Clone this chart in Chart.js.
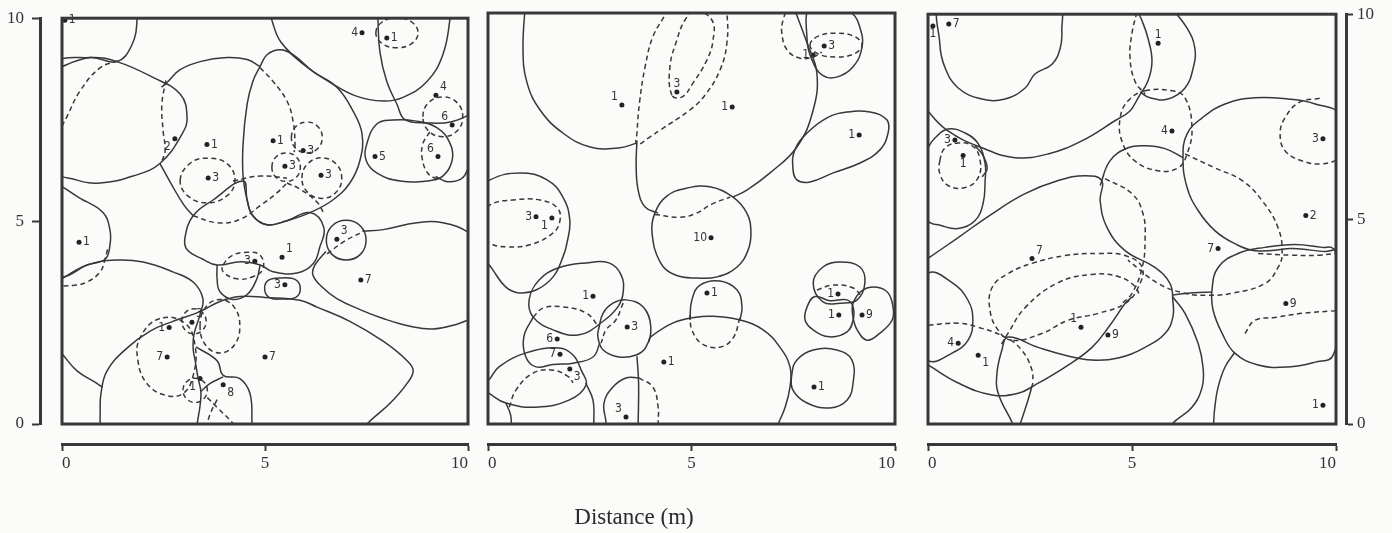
<!DOCTYPE html>
<html>
<head>
<meta charset="utf-8">
<script src="https://cdn.jsdelivr.net/npm/chart.js@4.4.1/dist/chart.umd.min.js"></script>
<style>
  html, body { margin: 0; padding: 0; background: #fbfbfa; }
  body { width: 1392px; height: 533px; position: relative; overflow: hidden; }
  .panel { position: absolute; top: 0; height: 533px; }
  #p1 { left: 0; width: 475px; }
  #p2 { left: 481px; width: 420px; }
  #p3 { left: 921px; width: 471px; }
  #xtitle {
    position: absolute; left: 534px; width: 200px; top: 504px;
    text-align: center; line-height: 28px;
    font: 23px "Liberation Serif", "DejaVu Serif", serif; color: #2a2a2a;
  }
</style>
</head>
<body>
<div class="panel" id="p1"><canvas id="c1"></canvas></div>
<div class="panel" id="p2"><canvas id="c2"></canvas></div>
<div class="panel" id="p3"><canvas id="c3"></canvas></div>
<div id="xtitle">Distance (m)</div>
<script>
/* Territory maps — three 10 m x 10 m plots, solid and dashed boundaries */

const INK = '#383838';
const SERIF = '"Liberation Serif", "DejaVu Serif", serif';
const NUM_FONT = '"Liberation Sans Narrow", "DejaVu Sans Condensed", "DejaVu Sans", sans-serif';

// ---- Panel 1 (left plot) ----
const p1BirdXY = [
  [0.07, 9.95], [2.78, 7.03], [3.57, 6.89], [3.60, 6.06], [0.42, 4.48], [4.75, 4.01],
  [3.20, 2.51], [2.64, 2.38], [2.59, 1.65], [3.40, 1.12], [3.97, 0.97], [5.00, 1.65],
  [7.39, 9.64], [8.00, 9.51], [9.21, 8.10], [9.61, 7.37], [9.26, 6.59], [7.71, 6.59],
  [5.20, 6.98], [5.94, 6.74], [5.49, 6.35], [6.38, 6.13], [6.77, 4.55], [5.42, 4.11],
  [5.49, 3.43], [7.36, 3.55]
];
const p1Counts = ['1','2','1','3','1','3','3','1','7','1','8','7','4','1','4','6','6','5','1','3','3','3','3','1','3','7'];
const p1Side = ['r','bl','r','r','r','l','ar','l','l','bl','br','r','l','r','ar','al','al','r','r','r','r','r','ar','ar','l','r'];

const p1SolidLoops = [
  [[-0.5,8.8],[0.7,9.03],[1.35,8.93],[1.72,9.34],[1.85,10],[1.8,10.6],[-0.5,10.6]],
  [[-0.4,7.5],[-0.2,8.85],[0.69,9.03],[1.35,8.93],[2.24,8.54],[2.91,8.13],[3.08,7.57],[2.96,7.15],[2.41,6.42],[1.75,6.11],[0.94,5.94],[0.37,6.01],[-0.3,6.3]],
  [[4.88,8.81],[5.05,9.1],[5.37,9.22],[5.69,9.1],[6.18,8.69],[6.77,8.3],[7.17,7.71],[7.39,7.15],[7.34,6.5],[7.09,5.94],[6.67,5.52],[6.11,5.21],[5.54,5.01],[5.05,4.91],[4.7,5.13],[4.56,5.52],[4.46,6.11],[4.46,6.91],[4.56,7.88],[4.7,8.44]],
  [[3.03,4.6],[3.23,5.13],[3.72,5.52],[4.46,5.99],[4.56,5.52],[4.7,5.13],[5.05,4.91],[5.54,5.01],[6.11,5.21],[6.45,4.84],[6.35,4.36],[6.18,3.94],[5.79,3.72],[5.2,3.75],[4.88,3.92],[4.4,4.0],[3.82,3.92],[3.47,4.06],[3.08,4.3]],
  [[-0.3,5.86],[0.52,5.52],[1.01,5.21],[1.18,4.79],[1.18,4.4],[1.06,4.06],[0.62,3.92],[0,3.62],[-0.5,3.8]],
  [[7.51,6.91],[7.76,7.4],[8.15,7.49],[8.69,7.47],[9.24,7.3],[9.56,6.91],[9.61,6.5],[9.38,6.11],[8.99,5.99],[8.33,5.99],[7.76,6.18],[7.49,6.5]],
  [[6.51,4.53],[6.65,4.88],[7.0,5.02],[7.35,4.88],[7.49,4.53],[7.35,4.18],[7.0,4.04],[6.65,4.18]],
  [[4.99,3.35],[5.1,3.55],[5.42,3.6],[5.76,3.55],[5.87,3.33],[5.76,3.12],[5.42,3.08],[5.1,3.12]]
];
const p1SolidPaths = [
  [[2.45,8.3],[2.61,8.44],[2.91,8.73],[3.4,8.93],[4.06,9.03],[4.56,8.98],[4.88,8.81]],
  [[2.41,6.42],[2.7,5.9],[3.0,5.4],[3.23,5.13]],
  [[-0.2,3.45],[0,3.58],[0.62,3.92],[1.35,4.04],[2.0,3.99],[2.73,3.75],[3.23,3.5],[3.47,3.09],[3.4,2.7],[3.25,2.2],[3.23,1.87],[3.28,1.56],[3.35,1.14],[3.42,0.8],[3.4,0.45],[3.33,0],[3.32,-0.2]],
  [[-0.2,1.95],[0,1.73],[0.37,1.31],[0.86,1.0],[1.0,0.9]],
  [[0.94,-0.3],[0.94,0.3],[0.96,0.75],[1.11,1.31],[1.6,1.87],[2.17,2.29],[2.73,2.53],[3.4,2.77],[3.89,3.02],[4.38,3.14],[5.0,3.12],[5.86,3.05],[6.28,2.88],[7.09,2.53],[7.91,2.04],[8.5,1.56],[8.65,1.31],[8.5,1.0],[8.08,0.51],[7.51,0],[7.3,-0.3]],
  [[3.3,1.9],[3.82,1.56],[3.97,1.2],[4.38,1.12],[4.63,0.75],[4.68,0],[4.68,-0.2]],
  [[3.42,0.8],[3.65,1.0],[3.97,1.16]],
  [[3.82,3.92],[3.82,3.58],[3.89,3.26],[4.21,3.07],[4.56,3.19],[4.8,3.58],[4.88,3.92]],
  [[5.1,10.3],[5.2,9.85],[5.4,9.4],[5.95,8.86],[6.6,8.42],[7.25,8.08],[7.91,7.96],[8.4,8.05],[8.99,8.44],[9.38,9.1],[9.56,10],[9.57,10.3]],
  [[7.77,10.3],[7.78,10],[7.83,9.17],[8.0,8.44],[8.25,7.88],[8.45,7.5],[9.0,7.42],[9.6,7.45],[10.2,7.7]],
  [[9.2,6.1],[9.5,5.97],[9.85,6.05],[10,6.3],[10.1,6.6]],
  [[7.4,4.75],[7.91,4.79],[8.74,4.96],[9.38,4.96],[10.05,4.7],[10.3,4.4]],
  [[6.5,4.25],[6.23,3.92],[6.18,3.67],[6.4,3.38],[6.77,3.09],[7.34,2.82],[7.91,2.6],[8.57,2.41],[9.14,2.34],[9.73,2.46],[10.05,2.58],[10.3,2.65]]
];
const p1DashedLoops = [
  [[2.91,6.01],[3.15,6.42],[3.57,6.55],[4.06,6.42],[4.26,6.01],[4.06,5.62],[3.57,5.45],[3.1,5.62]],
  [[5.65,7.06],[5.76,7.33],[6.03,7.44],[6.3,7.33],[6.41,7.06],[6.3,6.79],[6.03,6.68],[5.76,6.79]],
  [[5.17,6.33],[5.27,6.58],[5.52,6.68],[5.77,6.58],[5.87,6.33],[5.77,6.08],[5.52,5.98],[5.27,6.08]],
  [[5.91,6.06],[6.05,6.41],[6.4,6.56],[6.75,6.41],[6.89,6.06],[6.75,5.71],[6.4,5.56],[6.05,5.71]],
  [[8.89,7.57],[9.03,7.92],[9.38,8.06],[9.73,7.92],[9.87,7.57],[9.73,7.22],[9.38,7.08],[9.03,7.22]],
  [[7.73,9.64],[7.88,9.9],[8.25,10.01],[8.62,9.9],[8.77,9.64],[8.62,9.38],[8.25,9.27],[7.88,9.38]],
  [[2.41,2.6],[1.92,2.12],[1.87,1.56],[2.09,1.0],[2.54,0.71],[2.98,0.75],[3.23,1.19],[3.28,1.92],[3.03,2.48]],
  [[2.95,2.53],[3.04,2.75],[3.25,2.84],[3.46,2.75],[3.55,2.53],[3.46,2.31],[3.25,2.22],[3.04,2.31]],
  [[3.4,2.41],[3.54,2.88],[3.89,3.07],[4.24,2.88],[4.38,2.41],[4.24,1.94],[3.89,1.75],[3.54,1.94]],
  [[2.98,0.83],[3.07,1.04],[3.28,1.13],[3.49,1.04],[3.58,0.83],[3.49,0.62],[3.28,0.53],[3.07,0.62]],
  [[3.97,3.92],[4.21,4.16],[4.56,4.23],[4.88,4.16],[4.95,3.82],[4.7,3.63],[4.31,3.58],[3.97,3.75]]
];
const p1DashedPaths = [
  [[1.38,8.95],[0.94,8.78],[0.44,8.2],[0.12,7.57],[-0.1,7.15]],
  [[2.56,8.47],[2.46,7.88],[2.49,7.23],[2.54,6.74],[2.46,6.47]],
  [[4.88,8.78],[5.2,8.44],[5.54,7.96],[5.69,7.47],[5.74,6.91],[5.72,6.7]],
  [[3.23,5.13],[3.82,4.96],[4.38,5.04],[4.88,5.38],[5.3,5.7],[5.54,5.94]],
  [[4.21,5.99],[4.88,6.11],[5.54,6.06]],
  [[5.54,5.94],[5.86,5.79],[6.28,5.47],[6.43,5.23]],
  [[9.06,7.2],[8.89,6.91],[8.87,6.55],[9.01,6.18],[9.23,6.03]],
  [[3.58,0.65],[3.82,0.41],[4.21,0.02],[4.3,-0.1]],
  [[3.82,0.6],[3.65,0.25],[3.55,-0.1]],
  [[1.12,4.3],[1.06,4.06],[0.94,3.75],[0.62,3.5],[0.3,3.42],[-0.2,3.4]],
  [[6.53,4.19],[6.95,4.5],[7.42,4.74]]
];

// ---- Panel 2 (middle plot) ----
const p2BirdXY = [
  [3.29, 7.76], [4.64, 8.08], [1.18, 5.04], [1.57, 5.01], [2.58, 3.11], [3.42, 2.36],
  [1.70, 2.07], [1.77, 1.70], [2.01, 1.34], [4.32, 1.51], [3.39, 0.17], [6.00, 7.71],
  [7.99, 8.98], [8.26, 9.20], [9.12, 7.03], [5.48, 4.53], [5.38, 3.19], [8.60, 3.16],
  [8.62, 2.65], [9.19, 2.65], [8.01, 0.90]
];
const p2Counts = ['1','3','3','1','1','3','6','7','3','1','3','1','1','3','1','10','1','1','1','9','1'];
const p2Side = ['al','a','l','bl','l','r','l','l','br','r','al','l','l','r','l','l','r','l','l','r','r'];

const p2SolidLoops = [
  [[4.03,4.65],[4.1,5.13],[4.4,5.55],[4.89,5.74],[5.45,5.77],[6.02,5.52],[6.36,5.13],[6.46,4.67],[6.39,4.23],[6.12,3.82],[5.63,3.58],[5.14,3.55],[4.59,3.63],[4.23,3.94]],
  [[7.59,1.56],[7.99,1.8],[8.57,1.8],[8.94,1.56],[8.97,1.0],[8.82,0.58],[8.4,0.39],[7.84,0.51],[7.49,0.83],[7.47,1.24]],
  [[7.99,3.43],[8.23,3.82],[8.65,3.94],[9.14,3.82],[9.26,3.43],[9.07,3.02],[8.65,2.94],[8.23,2.97]],
  [[8.03,3.1],[7.84,2.85],[7.79,2.53],[7.99,2.29],[8.4,2.12],[8.82,2.24],[8.97,2.53],[8.97,2.85],[8.82,3.02],[8.4,3.0]],
  [[8.97,2.94],[9.21,3.26],[9.56,3.33],[9.83,3.19],[9.95,2.85],[9.93,2.53],[9.63,2.21],[9.31,2.04],[9.07,2.29],[8.97,2.6]],
  [[7.84,9.34],[7.96,8.86],[8.21,8.49],[8.57,8.44],[8.97,8.69],[9.19,9.17],[9.14,9.64],[8.94,10],[8.4,10.3],[7.91,10.2]],
  [[7.49,6.25],[7.54,6.67],[7.84,7.08],[8.33,7.45],[8.82,7.59],[9.39,7.59],[9.8,7.4],[9.83,7.08],[9.63,6.67],[9.14,6.35],[8.48,6.11],[7.91,5.89],[7.59,5.94]],
  [[-0.3,5.6],[0.05,5.94],[0.79,6.11],[1.45,5.94],[1.84,5.52],[2.01,4.96],[1.94,4.4],[1.84,4.06],[1.6,3.58],[1.18,3.26],[0.76,3.19],[0.44,3.33],[0.12,3.75],[-0.3,4.4]],
  [[1.25,3.5],[1.74,3.8],[2.41,3.92],[2.97,3.92],[3.27,3.63],[3.32,3.19],[3.19,2.85],[2.83,2.5],[2.24,2.17],[1.6,2.29],[1.11,2.6],[1.01,3.02]],
  [[2.73,2.36],[2.83,2.7],[3.07,2.94],[3.39,3.02],[3.81,2.85],[4.0,2.36],[3.88,1.87],[3.64,1.68],[3.22,1.63],[2.83,1.8],[2.7,2.12]],
  [[-0.2,0.9],[0.02,1.07],[0.27,1.39],[0.93,1.73],[1.74,1.85],[2.09,1.68],[2.29,1.31],[2.41,0.95],[1.99,0.58],[1.18,0.41],[0.44,0.51],[0.02,0.75]]
];
const p2SolidPaths = [
  [[0.93,10.4],[0.86,9.1],[0.96,8.3],[1.28,7.64],[1.84,7.08],[2.51,6.74],[3.24,6.72],[3.66,6.84]],
  [[3.66,6.9],[3.64,6.3],[3.69,5.69],[3.86,5.28],[4.18,5.13]],
  [[7.49,10.2],[7.84,9.27],[8.08,8.54],[7.99,7.64],[7.59,6.74],[6.93,6.11],[6.36,5.69],[6.02,5.52]],
  [[4.96,2.53],[5.01,3.02],[5.21,3.38],[5.7,3.48],[6.12,3.26],[6.24,2.85],[6.19,2.53]],
  [[3.66,1.65],[3.7,1.0],[3.69,0],[3.69,-0.2]],
  [[3.95,2.0],[4.0,2.12],[4.55,2.46],[5.11,2.6],[5.53,2.62],[6.19,2.53],[6.76,2.29],[7.17,1.87],[7.42,1.39],[7.42,0.9],[7.3,0.41],[7.13,0],[7.05,-0.2]],
  [[1.11,2.6],[0.88,2.12],[0.93,1.63],[1.18,1.39],[1.6,1.45],[2.09,1.48],[2.58,1.63],[2.75,1.97]],
  [[2.4,1.0],[2.58,0.58],[2.6,0],[2.6,-0.2]],
  [[0.44,0.51],[0.56,0.2],[0.57,-0.2]],
  [[2.87,-0.2],[2.9,0.02],[2.85,0.51],[3.07,0.9],[3.39,1.12],[3.71,1.12]]
];
const p2DashedLoops = [
  [[7.91,9.22],[8.1,9.43],[8.55,9.51],[9.0,9.43],[9.19,9.22],[9.0,9.01],[8.55,8.93],[8.1,9.01]],
  [[-0.44,4.84],[0.05,5.33],[0.61,5.45],[1.28,5.45],[1.7,5.26],[1.77,4.96],[1.6,4.65],[1.03,4.36],[0.47,4.31],[0.05,4.4]],
  [[4.52,8.0],[4.47,8.69],[4.64,9.34],[4.84,9.83],[5.09,10.05],[5.5,9.83],[5.53,9.34],[5.38,8.86],[5.04,8.3],[4.77,7.96]]
];
const p2DashedPaths = [
  [[7.4,10.2],[7.25,9.83],[7.22,9.51],[7.35,9.1],[7.67,8.9],[7.99,8.93],[8.2,9.05]],
  [[4.4,10.3],[4.4,10.07],[4.05,9.42],[3.86,8.69],[3.73,7.88],[3.66,7.08],[3.66,6.8],[4.0,7.0],[4.23,7.15],[4.96,7.64],[5.33,8.0],[5.7,8.61],[5.87,9.27],[5.87,10],[5.8,10.3]],
  [[4.1,5.1],[4.7,5.03],[5.1,5.12],[5.5,5.35],[5.95,5.52]],
  [[6.19,2.58],[6.02,2.09],[5.7,1.87],[5.26,1.95],[5.01,2.29],[4.96,2.65]],
  [[8.08,3.26],[8.48,3.38],[8.97,3.31],[9.19,3.09]],
  [[1.11,2.6],[1.35,2.82],[1.84,2.85],[2.41,2.7],[2.73,2.36]],
  [[3.32,2.94],[3.14,2.53],[2.9,2.29],[2.78,1.97]],
  [[0.52,0.41],[0.69,0.83],[1.11,1.24],[1.6,1.31],[1.99,1.14],[2.09,1.0]],
  [[3.71,1.12],[4.05,0.9],[4.18,0.41],[4.18,0.02],[4.18,-0.2]]
];

// ---- Panel 3 (right plot) ----
const p3BirdXY = [
  [0.12, 9.71], [0.51, 9.76], [0.66, 6.93], [0.86, 6.55], [2.55, 4.04], [0.74, 1.97],
  [1.23, 1.68], [3.75, 2.36], [4.41, 2.17], [5.64, 9.29], [5.98, 7.15], [9.68, 6.96],
  [9.26, 5.09], [7.11, 4.28], [8.77, 2.94], [9.68, 0.46]
];
const p3Counts = ['1','7','3','1','7','4','1','1','9','1','4','3','2','7','9','1'];
const p3Side = ['b','r','l','b','ar','l','br','al','r','a','l','l','r','l','r','l'];

const p3SolidLoops = [
  [[0.34,10.3],[0.29,9.27],[0.42,8.69],[0.74,8.2],[1.32,7.93],[1.89,7.93],[2.38,8.2],[2.62,8.54],[3.04,8.78],[3.24,9.17],[3.28,9.59],[3.19,10.2],[1.8,10.6]],
  [[6.35,7.08],[6.72,7.47],[7.28,7.81],[8.01,7.96],[8.82,7.93],[9.49,7.81],[10.1,7.52],[10.34,5.94],[10.1,4.36],[8.87,4.28],[8.01,4.23],[7.52,4.4],[7.03,4.72],[6.62,5.21],[6.35,5.77],[6.25,6.5]],
  [[6.96,3.26],[7.11,3.82],[7.6,4.16],[8.26,4.31],[8.99,4.38],[9.66,4.31],[9.93,4.28],[10.3,3.5],[9.93,1.68],[9.49,1.51],[8.82,1.39],[8.09,1.44],[7.52,1.73],[7.21,2.21],[6.99,2.77]],
  [[-0.4,6.0],[0,6.74],[0.17,6.98],[0.49,7.2],[0.91,7.1],[1.23,6.84],[1.4,6.35],[1.4,5.94],[1.35,5.38],[1.15,4.96],[0.74,4.77],[0.3,4.85],[0,4.96]],
  [[0,3.67],[0.59,3.45],[0.98,3.02],[1.1,2.53],[0.98,2.04],[0.59,1.73],[0,1.56],[-0.45,2.6]]
];
const p3SolidPaths = [
  [[-0.2,8.0],[0,7.64],[0.49,7.15],[1.32,6.74],[2.13,6.5],[2.94,6.59],[3.77,6.91],[4.58,7.4],[4.95,7.64],[5.15,7.96],[5.39,8.37],[5.49,8.86],[5.39,9.42],[5.25,9.83],[5.12,10.1]],
  [[5.93,10.2],[6.35,9.66],[6.54,9.17],[6.5,8.69],[6.3,8.2],[5.88,7.93],[5.44,7.96],[5.2,8.1]],
  [[-0.2,3.9],[0,4.04],[0.74,4.55],[1.57,5.13],[2.38,5.62],[3.19,5.94],[3.85,6.06],[4.26,5.94],[4.22,5.45],[4.39,4.79],[4.83,4.23],[5.56,3.82],[5.93,3.43],[6.0,3.02],[6.0,2.6],[5.81,2.21],[5.32,1.87],[4.66,1.61],[4.02,1.56],[3.36,1.68],[2.7,1.87],[1.96,2.12],[1.81,1.8],[1.69,1.24],[1.72,0.75],[2.08,0],[2.15,-0.2]],
  [[4.22,5.82],[4.46,6.42],[4.9,6.74],[5.32,6.79],[5.81,6.72],[6.25,6.5]],
  [[-0.2,1.55],[0,1.44],[0.74,1.0],[1.57,0.71],[2.21,0.75],[2.62,0.95],[3.36,1.39],[4.02,1.87],[4.46,2.41],[4.83,2.94],[5.0,3.1]],
  [[6.96,3.22],[6.5,3.2],[6.0,3.15]],
  [[6.0,3.1],[6.3,2.7],[6.62,1.97],[6.74,1.39],[6.72,0.9],[6.47,0.41],[5.98,0],[5.9,-0.2]],
  [[7.52,1.75],[7.28,1.39],[7.11,0.9],[7.03,0.41],[7.0,0],[7.0,-0.2]],
  [[1.15,6.79],[1.35,6.55],[1.45,6.23],[1.33,6.03]],
  [[2.57,1.0],[2.45,0.58],[2.26,0],[2.2,-0.2]]
];
const p3DashedLoops = [
  [[0.29,6.42],[0.42,6.74],[0.74,6.86],[1.08,6.79],[1.27,6.47],[1.23,6.01],[0.91,5.77],[0.49,5.82],[0.29,6.11]],
  [[5.32,8.13],[5.98,8.13],[6.3,7.96],[6.47,7.23],[6.35,6.59],[6.13,6.25],[5.64,6.18],[5.07,6.42],[4.75,6.91],[4.71,7.47],[4.9,7.88]],
  [[2.06,2.04],[1.72,2.29],[1.52,2.77],[1.57,3.33],[1.96,3.67],[2.55,3.92],[3.36,4.11],[4.17,4.16],[4.83,4.11],[5.25,3.82],[5.15,3.33],[4.83,2.94],[4.17,2.7],[3.43,2.53],[2.79,2.21]]
];
const p3DashedPaths = [
  [[5.12,10.05],[5.0,9.54],[4.95,8.96],[5.07,8.37],[5.32,8.05]],
  [[9.6,7.95],[9.1,7.85],[8.75,7.47],[8.63,7.08],[8.75,6.67],[9.17,6.42],[9.66,6.35],[10.2,6.5]],
  [[6.3,6.59],[7.03,6.25],[7.7,5.94],[8.19,5.45],[8.58,4.79],[8.68,4.16],[8.58,3.82],[8.26,3.43],[7.45,3.19],[6.86,3.14],[6.3,3.19],[5.64,3.43],[4.9,4.0]],
  [[8.09,4.16],[8.9,4.12],[9.6,4.12],[10.2,4.2]],
  [[7.77,2.21],[8.01,2.53],[8.5,2.6],[9.17,2.7],[10.1,2.77]],
  [[1.8,1.95],[1.96,2.21],[2.38,2.84],[3.19,3.45],[4.02,3.65],[4.66,3.6],[5.07,3.36],[5.2,3.1]],
  [[4.34,5.99],[5.0,5.62],[5.27,5.13],[5.32,4.48],[5.25,3.82],[5.0,3.19],[4.71,2.9]],
  [[-0.2,2.4],[0,2.41],[0.74,2.46],[1.23,2.36],[1.89,2.12],[2.3,1.8],[2.55,1.31],[2.57,1.02]]
];

// ---- helpers ----
function outlines(list, dashed, closed) {
  return list.map(pts => ({
    data: pts.map(([x, y]) => ({ x, y })),
    xAxisID: 'x', yAxisID: 'y',
    closed,
    borderColor: INK,
    borderWidth: 1.5,
    borderDash: dashed ? [5, 3.5] : [],
    tension: 0.42,
    capBezierPoints: false,
    pointRadius: 0,
    fill: false,
    clip: 0
  }));
}

function birds(xy, counts, sides) {
  return {
    data: xy.map(([x, y]) => ({ x, y })),
    xAxisID: 'x', yAxisID: 'y',
    counts, sides,
    showLine: false,
    pointRadius: 2.5,
    pointBorderWidth: 0,
    pointBackgroundColor: '#222',
    clip: 0
  };
}

// closed territories: let the line element wrap round and smooth the join
const smoothLoops = {
  id: 'smoothLoops',
  beforeDatasetDraw(chart, args) {
    const ds = chart.data.datasets[args.index];
    if (ds.closed === undefined) return;
    const line = args.meta.dataset;
    line._loop = ds.closed;
    line._fullLoop = ds.closed;
    line._pointsUpdated = false;
    line._path = undefined;
    line._segments = undefined;
    line.updateControlPoints(chart.chartArea, 'x');
  }
};

const countLabels = {
  id: 'countLabels',
  afterDatasetsDraw(chart) {
    const ctx = chart.ctx;
    chart.data.datasets.forEach((ds, i) => {
      if (!ds.counts) return;
      const meta = chart.getDatasetMeta(i);
      ctx.save();
      ctx.font = '12px ' + NUM_FONT;
      ctx.fillStyle = '#333';
      ctx.textBaseline = 'middle';
      meta.data.forEach((pt, j) => {
        const side = ds.sides[j];
        let dx = 4, dy = 0, align = 'left';
        if (side.includes('l')) { dx = -4; align = 'right'; }
        if (side === 'a' || side === 'b') { dx = 0; align = 'center'; }
        if (side[0] === 'a') dy = -8;
        if (side[0] === 'b') dy = 8;
        ctx.textAlign = align;
        ctx.fillText(ds.counts[j], pt.x + dx, pt.y + dy);
      });
      ctx.restore();
    });
  }
};

const frame = {
  id: 'frame',
  afterDatasetsDraw(chart) {
    const { ctx, chartArea: a } = chart;
    ctx.save();
    ctx.strokeStyle = '#383838';
    ctx.lineWidth = 3;
    ctx.strokeRect(a.left, a.top, a.right - a.left, a.bottom - a.top);
    ctx.restore();
  }
};

const tickFont = { family: SERIF, size: 17 };

function xScale() {
  return {
    type: 'linear', position: 'bottom', weight: 1, min: 0, max: 10,
    ticks: { stepSize: 5, align: 'inner', color: '#333', font: tickFont, padding: 2, maxRotation: 0 },
    grid: { drawOnChartArea: false, tickLength: 7, tickWidth: 2, color: INK },
    border: { color: INK, width: 3 },
    afterFit: s => { s.height = 89; }
  };
}
function xGap() {
  return {
    type: 'linear', axis: 'x', position: 'bottom', weight: 0,
    grid: { display: false }, border: { display: false }, ticks: { display: false },
    afterFit: s => { s.height = 20; }
  };
}
function yScale(pos) {
  return {
    type: 'linear', position: pos, weight: 1, min: 0, max: 10,
    ticks: { stepSize: 5, color: '#333', font: tickFont, padding: pos === 'left' ? 8 : 4 },
    grid: { drawOnChartArea: false, tickLength: pos === 'left' ? 8 : 7, tickWidth: 2, color: INK },
    border: { color: INK, width: 3 },
    afterFit: s => { s.width = pos === 'left' ? 40 : 46; }
  };
}
function yGap(pos, w) {
  return {
    type: 'linear', axis: 'y', position: pos, weight: 0,
    grid: { display: false }, border: { display: false }, ticks: { display: false },
    afterFit: s => { s.width = w; }
  };
}

function makePanel(id, sets, scales, padding) {
  return new Chart(document.getElementById(id), {
    type: 'line',
    data: { datasets: sets },
    options: {
      responsive: true,
      maintainAspectRatio: false,
      animation: false,
      events: [],
      layout: { padding },
      plugins: { legend: { display: false }, tooltip: { enabled: false } },
      scales
    },
    plugins: [smoothLoops, countLabels, frame]
  });
}

makePanel('c1', [
  ...outlines(p1SolidLoops, false, true),
  ...outlines(p1SolidPaths, false, false),
  ...outlines(p1DashedLoops, true, true),
  ...outlines(p1DashedPaths, true, false),
  birds(p1BirdXY, p1Counts, p1Side)
], { x: xScale(), y: yScale('left'), xGap: xGap(), yGap: yGap('left', 22) },
   { top: 13, left: 0, right: 7, bottom: 0 });

makePanel('c2', [
  ...outlines(p2SolidLoops, false, true),
  ...outlines(p2SolidPaths, false, false),
  ...outlines(p2DashedLoops, true, true),
  ...outlines(p2DashedPaths, true, false),
  birds(p2BirdXY, p2Counts, p2Side)
], { x: xScale(), y: { type: 'linear', display: false, min: 0, max: 10 }, xGap: xGap() },
   { top: 13, left: 7, right: 6, bottom: 0 });

makePanel('c3', [
  ...outlines(p3SolidLoops, false, true),
  ...outlines(p3SolidPaths, false, false),
  ...outlines(p3DashedLoops, true, true),
  ...outlines(p3DashedPaths, true, false),
  birds(p3BirdXY, p3Counts, p3Side)
], { x: xScale(), y: yScale('right'), xGap: xGap(), yGap: yGap('right', 10) },
   { top: 13, left: 7, right: 0, bottom: 0 });
</script>
</body>
</html>
